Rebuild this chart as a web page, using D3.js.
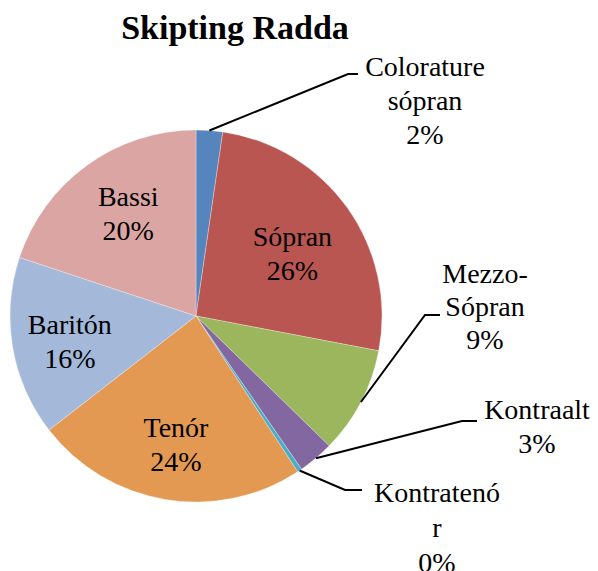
<!DOCTYPE html>
<html>
<head>
<meta charset="utf-8">
<script src="https://cdn.jsdelivr.net/npm/d3@7"></script>
<style>
    body { margin: 0; background: #fff; }
</style>
</head>
<body>
<script>
    // data (share of voices, percent)
    const categories = ["Colorature sópran", "Sópran", "Mezzo-Sópran", "Kontraalt", "Kontratenór", "Tenór", "Baritón", "Bassi"];
    const values = [2.3, 25.7, 9.3, 3.1, 0.4, 23.7, 15.6, 19.9];
    const labelLines = [["Colorature", "sópran"], ["Sópran"], ["Mezzo-", "Sópran"], ["Kontraalt"], ["Kontratenó", "r"], ["Tenór"], ["Baritón"], ["Bassi"]];
    const colors = ["#5685BE", "#BA5652", "#9BB65C", "#8367A0", "#4BACC6", "#E39952", "#A4B8DA", "#DAA5A2"];

    const width = 598;
    const height = 571;
    const cx = 196;
    const cy = 316;
    const radius = 186;
    const serif = "'Liberation Serif', 'Times New Roman', Times, serif";

    // where the outside labels go: leader elbow, leader end, text centre, first baseline, line gap
    const outside = {
        0: { elbow: [348, 74], end: [358, 74], tx: 425, ty: 76, gap: 34 },
        2: { elbow: [425, 315], end: [440, 315], tx: 485, ty: 283, gap: 33 },
        3: { elbow: [462, 421], end: [477, 421], tx: 537, ty: 419, gap: 34 },
        4: { elbow: [345, 490], end: [362, 490], tx: 437, ty: 502, gap: 35 }
    };
    // small nudges for the labels inside the pie
    const insideNudge = { 1: [-2, 8], 5: [0, 9], 6: [-7, 5], 7: [3, -4] };

    const total = d3.sum(values);
    const slices = categories.map((c, i) => ({ name: c, value: values[i], index: i }));

    const svg = d3.select("body")
        .append("svg")
        .attr("width", width)
        .attr("height", height);

    svg.append("rect").attr("width", width).attr("height", height).attr("fill", "#fff");

    const pie = d3.pie().sort(null).value(d => d.value);
    const arc = d3.arc().innerRadius(0).outerRadius(radius);
    const labelArc = d3.arc().innerRadius(radius * 0.65).outerRadius(radius * 0.65);

    const arcs = pie(slices);
    const g = svg.append("g").attr("transform", `translate(${cx},${cy})`);

    // Draw slices
    g.selectAll("path")
        .data(arcs)
        .enter()
        .append("path")
        .attr("d", arc)
        .attr("fill", d => colors[d.index])
        .attr("stroke", "#fff")
        .attr("stroke-width", 0.3);

    const pct = d => Math.round(d.data.value / total * 100) + "%";

    function addText(x, y, t) {
        svg.append("text")
            .attr("x", x)
            .attr("y", y)
            .attr("text-anchor", "middle")
            .attr("font-family", serif)
            .attr("font-size", "28px")
            .attr("fill", "#000")
            .text(t);
    }

    // Inside labels
    arcs.filter(d => !outside[d.index]).forEach(d => {
        const c = labelArc.centroid(d);
        const n = insideNudge[d.index] || [0, 0];
        const lines = labelLines[d.index].concat([pct(d)]);
        const x = cx + c[0] + n[0];
        const y0 = cy + c[1] + n[1] - (lines.length - 1) * 17 + 9.5;
        lines.forEach((t, k) => addText(x, y0 + k * 34, t));
    });

    // Outside labels with leader lines
    arcs.filter(d => outside[d.index]).forEach(d => {
        const o = outside[d.index];
        const mid = (d.startAngle + d.endAngle) / 2;
        const p = [cx + radius * Math.sin(mid), cy - radius * Math.cos(mid)];
        svg.append("path")
            .attr("d", `M${p[0]},${p[1]}L${o.elbow[0]},${o.elbow[1]}L${o.end[0]},${o.end[1]}`)
            .attr("fill", "none")
            .attr("stroke", "#000")
            .attr("stroke-width", 2);
        const lines = labelLines[d.index].concat([pct(d)]);
        lines.forEach((t, k) => addText(o.tx, o.ty + k * o.gap, t));
    });

    // Title
    svg.append("text")
        .attr("x", 235)
        .attr("y", 39)
        .attr("text-anchor", "middle")
        .attr("font-family", serif)
        .attr("font-size", "34px")
        .attr("font-weight", "bold")
        .attr("fill", "#000")
        .text("Skipting Radda");
</script>
</body>
</html>
